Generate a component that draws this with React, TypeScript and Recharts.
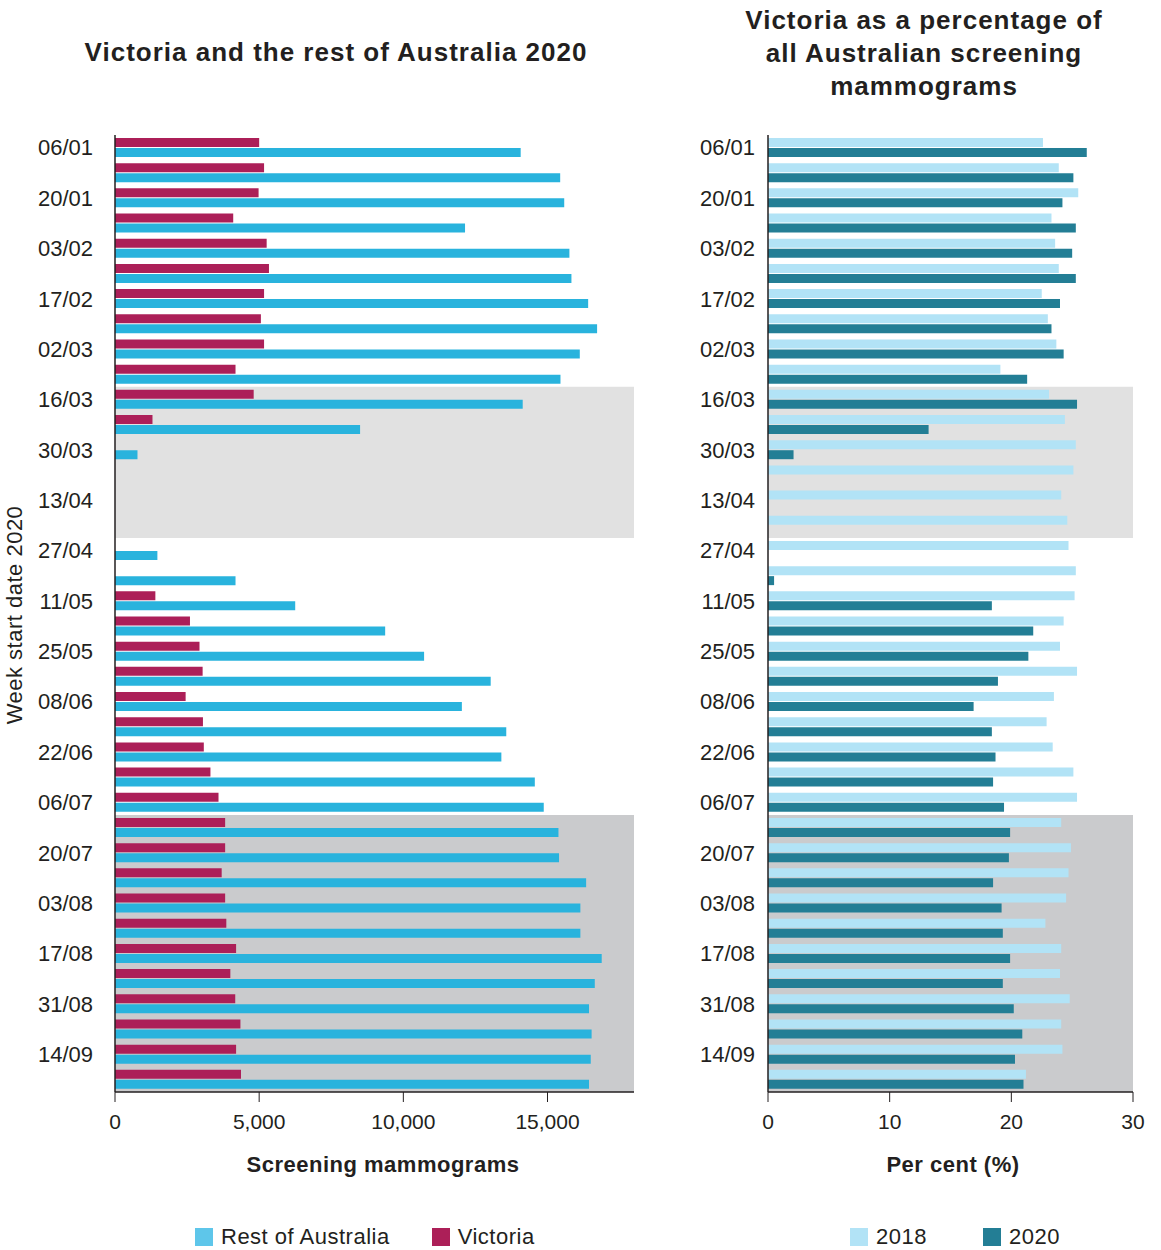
import React from "react";
import {
  BarChart,
  Bar,
  XAxis,
  YAxis,
  ReferenceArea,
} from "recharts";

const weeks = [
  "06/01", "13/01", "20/01", "27/01", "03/02", "10/02", "17/02", "24/02",
  "02/03", "09/03", "16/03", "23/03", "30/03", "06/04", "13/04", "20/04",
  "27/04", "04/05", "11/05", "18/05", "25/05", "01/06", "08/06", "15/06",
  "22/06", "29/06", "06/07", "13/07", "20/07", "27/07", "03/08", "10/08",
  "17/08", "24/08", "31/08", "07/09", "14/09", "21/09",
];

const victoria = [
  5000, 5170, 4980, 4100, 5260, 5340, 5170, 5060, 5170, 4180, 4810, 1300,
  0, 0, 0, 0, 0, 0,
  1400, 2600, 2930, 3040, 2450, 3050, 3080, 3310, 3590, 3820, 3820, 3700,
  3820, 3860, 4200, 4000, 4170, 4350, 4200, 4370,
];

const restOfAustralia = [
  14070, 15440, 15580, 12140, 15760, 15830, 16410, 16720, 16120, 15450, 14140, 8500,
  780, 0, 0, 0, 1470, 4180,
  6250, 9370, 10720, 13030, 12030, 13570, 13400, 14560, 14870, 15380, 15400, 16340,
  16140, 16140, 16880, 16640, 16440, 16530, 16500, 16440,
];

const pct2018 = [
  22.6, 23.9, 25.5, 23.3, 23.6, 23.9, 22.5, 23.0, 23.7, 19.1, 23.1, 24.4, 25.3,
  25.1, 24.1, 24.6, 24.7, 25.3,
  25.2, 24.3, 24.0, 25.4, 23.5, 22.9, 23.4, 25.1, 25.4, 24.1, 24.9, 24.7,
  24.5, 22.8, 24.1, 24.0, 24.8, 24.1, 24.2, 21.2,
];

const pct2020 = [
  26.2, 25.1, 24.2, 25.3, 25.0, 25.3, 24.0, 23.3, 24.3, 21.3, 25.4, 13.2, 2.1,
  0, 0, 0, 0, 0.5,
  18.4, 21.8, 21.4, 18.9, 16.9, 18.4, 18.7, 18.5, 19.4, 19.9, 19.8, 18.5,
  19.2, 19.3, 19.9, 19.3, 20.2, 20.9, 20.3, 21.0,
];

const countTicks = [0, 5000, 10000, 15000];
const pctTicks = [0, 10, 20, 30];

// shaded periods (first week, last week)
const lockdown1 = ["16/03", "20/04"];
const lockdown2 = ["13/07", "21/09"];

const countData = weeks.map((week, i) => ({
  week,
  victoria: victoria[i],
  rest: restOfAustralia[i],
}));

const pctData = weeks.map((week, i) => ({
  week,
  y2018: pct2018[i],
  y2020: pct2020[i],
}));

const INK = "#231f20";
const FONT = '"Liberation Sans", Arial, Helvetica, sans-serif';

const C = {
  victoria: "#ac1f58",
  rest: "#29b3dd",
  restLegend: "#5ec6ea",
  y2018: "#b2e3f6",
  y2020: "#237e95",
  bandLight: "#e1e1e1",
  bandDark: "#cacbcd",
};

const tickStyle = { fill: INK, fontSize: 21, fontFamily: FONT };
const yTickStyle = { fill: INK, fontSize: 22, fontFamily: FONT };

const LegendRow = ({ items, left, gap }: any) => (
  <div
    style={{
      position: "absolute",
      left,
      top: 1225,
      display: "flex",
      alignItems: "center",
      gap,
      fontSize: 22,
      letterSpacing: 0.5,
      lineHeight: "24px",
    }}>
    {items.map((it: any) => (
      <div key={it.label} style={{ display: "flex", alignItems: "center" }}>
        <span style={{ width: 18, height: 18, background: it.color, marginRight: 8, display: "inline-block" }} />
        <span>{it.label}</span>
      </div>
    ))}
  </div>
);

export default function App() {
  return (
    <div
      style={{
        position: "absolute",
        left: 0,
        top: 0,
        width: 1161,
        height: 1250,
        background: "#fff",
        fontFamily: FONT,
        color: INK,
      }}>
      {/* Titles */}
      <div
        style={{
          position: "absolute",
          left: 36,
          top: 37,
          width: 600,
          textAlign: "center",
          fontSize: 26,
          fontWeight: 700,
          letterSpacing: 1,
          lineHeight: "30px",
        }}>
        Victoria and the rest of Australia 2020
      </div>
      <div
        style={{
          position: "absolute",
          left: 724,
          top: 4,
          width: 400,
          textAlign: "center",
          fontSize: 26,
          fontWeight: 700,
          letterSpacing: 1,
          lineHeight: "33px",
        }}>
        Victoria as a percentage of
        <br />
        all Australian screening
        <br />
        mammograms
      </div>

      {/* Left chart */}
      <div style={{ position: "absolute", left: 0, top: 0 }}>
        <BarChart
          width={660}
          height={1250}
          data={countData}
          layout="vertical"
          barSize={9}
          barGap={1}
          margin={{ top: 135, right: 26, bottom: 118, left: 0 }}>
          <ReferenceArea y1={lockdown1[0]} y2={lockdown1[1]} fill={C.bandLight} fillOpacity={1} stroke="none" />
          <ReferenceArea y1={lockdown2[0]} y2={lockdown2[1]} fill={C.bandDark} fillOpacity={1} stroke="none" />
          <XAxis
            type="number"
            domain={[0, 18000]}
            ticks={countTicks}
            height={40}
            tickSize={10}
            tickMargin={12}
            axisLine={{ stroke: INK, strokeWidth: 1.5 }}
            tickLine={{ stroke: INK, strokeWidth: 1 }}
            tick={tickStyle}
            tickFormatter={(v: number) => v.toLocaleString("en-US")}
          />
          <YAxis
            type="category"
            dataKey="week"
            width={115}
            interval={1}
            tickLine={false}
            tickSize={10}
            tickMargin={12}
            axisLine={{ stroke: INK, strokeWidth: 1.5 }}
            tick={yTickStyle}
          />
          <Bar dataKey="victoria" name="Victoria" fill={C.victoria} isAnimationActive={false} />
          <Bar dataKey="rest" name="Rest of Australia" fill={C.rest} isAnimationActive={false} />
        </BarChart>
      </div>

      {/* Right chart */}
      <div style={{ position: "absolute", left: 680, top: 0 }}>
        <BarChart
          width={481}
          height={1250}
          data={pctData}
          layout="vertical"
          barSize={9}
          barGap={1}
          margin={{ top: 135, right: 28, bottom: 118, left: 0 }}>
          <ReferenceArea y1={lockdown1[0]} y2={lockdown1[1]} fill={C.bandLight} fillOpacity={1} stroke="none" />
          <ReferenceArea y1={lockdown2[0]} y2={lockdown2[1]} fill={C.bandDark} fillOpacity={1} stroke="none" />
          <XAxis
            type="number"
            domain={[0, 30]}
            ticks={pctTicks}
            height={40}
            tickSize={10}
            tickMargin={12}
            axisLine={{ stroke: INK, strokeWidth: 1.5 }}
            tickLine={{ stroke: INK, strokeWidth: 1 }}
            tick={tickStyle}
          />
          <YAxis
            type="category"
            dataKey="week"
            width={88}
            interval={1}
            tickLine={false}
            tickSize={6}
            tickMargin={7}
            axisLine={{ stroke: INK, strokeWidth: 1.5 }}
            tick={yTickStyle}
          />
          <Bar dataKey="y2018" name="2018" fill={C.y2018} isAnimationActive={false} />
          <Bar dataKey="y2020" name="2020" fill={C.y2020} isAnimationActive={false} />
        </BarChart>
      </div>

      {/* Axis titles */}
      <div
        style={{
          position: "absolute",
          left: 15,
          top: 615,
          transform: "translate(-50%, -50%) rotate(-90deg)",
          whiteSpace: "nowrap",
          fontSize: 22,
          letterSpacing: 0.5,
        }}>
        Week start date 2020
      </div>
      <div
        style={{
          position: "absolute",
          left: 183,
          top: 1152,
          width: 400,
          textAlign: "center",
          fontSize: 22,
          fontWeight: 700,
          letterSpacing: 0.5,
        }}>
        Screening mammograms
      </div>
      <div
        style={{
          position: "absolute",
          left: 753,
          top: 1152,
          width: 400,
          textAlign: "center",
          fontSize: 22,
          fontWeight: 700,
          letterSpacing: 0.5,
        }}>
        Per cent (%)
      </div>

      {/* Legends */}
      <LegendRow
        left={195}
        gap={42}
        items={[
          { label: "Rest of Australia", color: C.restLegend },
          { label: "Victoria", color: C.victoria },
        ]}
      />
      <LegendRow
        left={850}
        gap={56}
        items={[
          { label: "2018", color: C.y2018 },
          { label: "2020", color: C.y2020 },
        ]}
      />
    </div>
  );
}
